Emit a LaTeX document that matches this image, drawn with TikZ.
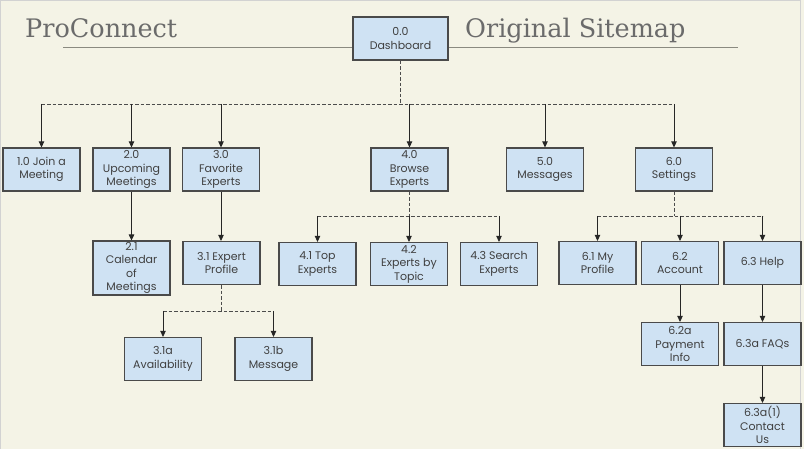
\documentclass[tikz,border=0pt]{standalone}
\usepackage{fontspec}
\setmainfont{Poppins}
\newfontfamily\titlefont{DejaVu Serif}
\usetikzlibrary{arrows.meta}
\definecolor{bg}{HTML}{F4F3E6}
\definecolor{boxfill}{HTML}{CFE2F3}
\definecolor{boxdraw}{HTML}{4A4A4A}
\definecolor{txt}{HTML}{404040}
\definecolor{titlec}{HTML}{6B6B6B}
\definecolor{rulec}{HTML}{8A8A80}
\begin{document}
\begin{tikzpicture}[x=1pt,y=-1pt,
 box/.style={draw=boxdraw, fill=boxfill, line width=1.2pt, minimum width=77pt, minimum height=43pt, inner sep=1pt, align=center, font=\fontsize{11}{13.6}\selectfont, text=txt},
 link/.style={draw=black!85, line width=0.9pt, -{Triangle[length=6pt,width=5.5pt]}},
 bus/.style={draw=black!70, line width=0.9pt, dash pattern=on 3.5pt off 2pt},
 titletext/.style={font=\titlefont\fontsize{25.5}{30}\selectfont, text=titlec, anchor=base west, inner sep=0pt}]
\useasboundingbox (0,0) rectangle (804,449);
\fill[bg] (0,0) rectangle (804,449);
\draw[gray!35, line width=1pt] (0.5,449) -- (0.5,0.5) -- (800.5,0.5) -- (800.5,449);
% titles
\node[titletext] (t1) at (25,38) {ProConnect};
\node[titletext] (t2) at (465,38) {Original Sitemap};
\draw[rulec, line width=1pt] (63,48) -- (353,48);
\draw[rulec, line width=1pt] (448,48) -- (738,48);
% nodes
\node[box, minimum width=95pt] (d) at (400.5,38.5) {0.0\\Dashboard};
\node[box] (n1) at (41.5,169.5) {1.0 Join a\\Meeting};
\node[box] (n2) at (131.5,169.5) {2.0\\Upcoming\\Meetings};
\node[box] (n3) at (221,169.5) {3.0\\Favorite\\Experts};
\node[box] (n4) at (409.5,169.5) {4.0\\Browse\\Experts};
\node[box] (n5) at (545,169.5) {5.0\\Messages};
\node[box] (n6) at (674,169.5) {6.0\\Settings};
\node[box, minimum height=53pt] (n21) at (131.5,268) {2.1\\Calendar\\of\\Meetings};
\node[box] (n31) at (221.5,263) {3.1 Expert\\Profile};
\node[box] (n41) at (317.5,264) {4.1 Top\\Experts};
\node[box] (n42) at (409,264) {4.2\\Experts by\\Topic};
\node[box] (n43) at (499,264) {4.3 Search\\Experts};
\node[box] (n61) at (597.5,263) {6.1 My\\Profile};
\node[box] (n62) at (680,263) {6.2\\Account};
\node[box] (n63) at (762.5,263) {6.3 Help};
\node[box] (n31a) at (163,359) {3.1a\\Availability};
\node[box] (n31b) at (273.5,359) {3.1b\\Message};
\node[box] (n62a) at (680,344) {6.2a\\Payment\\Info};
\node[box] (n63a) at (762.5,344) {6.3a FAQs};
\node[box] (n63a1) at (762.5,425) {6.3a(1)\\Contact\\Us};
% top bus
\coordinate (b0) at (400.5,104);
\draw[bus] (d.south) -- (b0);
\draw[bus] (n1 |- b0) -- (n6 |- b0);
\foreach \n in {n1,n2,n3,n4,n5,n6} \draw[link] (\n |- b0) -- (\n.north);
% browse bus
\coordinate (b4) at (409.5,216);
\draw[bus] (n4.south) -- (b4);
\draw[bus] (n41 |- b4) -- (n43 |- b4);
\foreach \n in {n41,n42,n43} \draw[link] (\n |- b4) -- (\n.north);
% settings bus
\coordinate (b6) at (674,216);
\draw[bus] (n6.south) -- (b6);
\draw[bus] (n61 |- b6) -- (n63 |- b6);
\foreach \n in {n61,n62,n63} \draw[link] (\n |- b6) -- (\n.north);
% expert profile bus
\coordinate (b31) at (221.5,311);
\draw[bus] (n31.south) -- (b31);
\draw[bus] (n31a |- b31) -- (n31b |- b31);
\foreach \n in {n31a,n31b} \draw[link] (\n |- b31) -- (\n.north);
% direct links
\draw[link] (n2) -- (n21);
\draw[link] (n3.south) -- (n31.north -| n3.south);
\draw[link] (n62) -- (n62a);
\draw[link] (n63) -- (n63a);
\draw[link] (n63a) -- (n63a1);
\end{tikzpicture}
\end{document}
